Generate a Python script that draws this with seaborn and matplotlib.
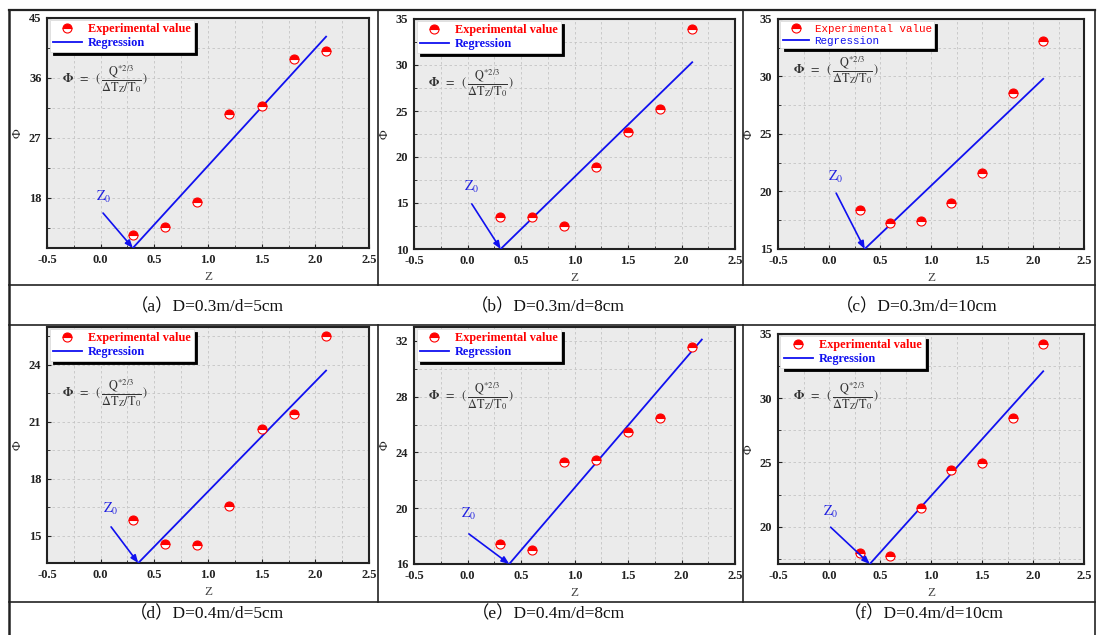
import numpy as np
import pandas as pd
import matplotlib
matplotlib.use("Agg")
import matplotlib.pyplot as plt
import seaborn as sns
from matplotlib.lines import Line2D
from matplotlib.ticker import MultipleLocator, FormatStrFormatter

# ---------------- data ----------------
z_values = [0.3, 0.6, 0.9, 1.2, 1.5, 1.8, 2.1]

phi_a = [12.5, 13.7, 17.35, 30.6, 31.8, 38.9, 40.0]
phi_b = [13.44, 13.47, 12.46, 18.9, 22.74, 25.2, 33.9]
phi_c = [18.35, 17.25, 17.4, 18.96, 21.62, 28.53, 33.1]
phi_d = [15.81, 14.54, 14.51, 16.58, 20.61, 21.42, 25.55]
phi_e = [17.44, 17.0, 23.31, 23.48, 25.47, 26.48, 31.59]
phi_f = [17.98, 17.7, 21.45, 24.38, 24.97, 28.47, 34.2]

# regression lines (start at virtual origin Z0, end of fit)
reg_z_a = [0.30, 2.10]; reg_phi_a = [10.5, 42.2]
reg_z_b = [0.31, 2.10]; reg_phi_b = [10.0, 30.3]
reg_z_c = [0.35, 2.10]; reg_phi_c = [15.0, 29.8]
reg_z_d = [0.35, 2.10]; reg_phi_d = [13.55, 23.7]
reg_z_e = [0.39, 2.19]; reg_phi_e = [16.0, 32.1]
reg_z_f = [0.40, 2.10]; reg_phi_f = [17.1, 32.1]

captions = ["（a）D=0.3m/d=5cm", "（b）D=0.3m/d=8cm", "（c）D=0.3m/d=10cm",
            "（d）D=0.4m/d=5cm", "（e）D=0.4m/d=8cm", "（f）D=0.4m/d=10cm"]
legend_labels = ["Experimental value", "Regression"]
y_limits = [(10.5, 45), (10, 35), (15, 35), (13.55, 26.0), (16, 33), (17.1, 35)]
y_major = [9, 5, 5, 3, 4, 5]
x_limits = (-0.5, 2.5)

series = [phi_a, phi_b, phi_c, phi_d, phi_e, phi_f]
reg_z = [reg_z_a, reg_z_b, reg_z_c, reg_z_d, reg_z_e, reg_z_f]
reg_phi = [reg_phi_a, reg_phi_b, reg_phi_c, reg_phi_d, reg_phi_e, reg_phi_f]

# ---------------- layout (pixels) ----------------
W, H = 1097, 635
axes_px = [  # left, right, top, bottom
    (47, 369, 18, 248),
    (414, 735, 19, 249),
    (778, 1084, 19, 249),
    (47, 369, 327, 563),
    (414, 735, 327, 564),
    (778, 1084, 334, 564),
]
caption_px = [(207, 307), (548, 307), (917, 307), (207, 614), (548, 614), (924, 614)]
formula_pos = [(0.047, 0.735), (0.044, 0.72), (0.048, 0.78), (0.047, 0.72), (0.044, 0.71), (0.048, 0.73)]
arrow_tail = [(0.174, 0.152), (0.18, 0.196), (0.19, 0.243), (0.199, 0.153), (0.171, 0.127), (0.172, 0.16)]
z0_text = [(0.177, 0.185), (0.18, 0.235), (0.19, 0.278), (0.199, 0.195), (0.171, 0.177), (0.172, 0.19)]

plt.rcParams["font.family"] = ["Liberation Serif", "Noto Sans CJK SC"]
plt.rcParams["mathtext.fontset"] = "stix"

fig = plt.figure(figsize=(W / 100, H / 100), dpi=100)
fig.patch.set_facecolor("white")

SERIF = "Liberation Serif"

for i in range(6):
    l, r, t, b = axes_px[i]
    ax = fig.add_axes([l / W, 1 - b / H, (r - l) / W, (b - t) / H])
    ax.set_facecolor("#EBEBEB")
    ax.set_axisbelow(True)

    df = pd.DataFrame({"Z": z_values, "Phi": series[i]})
    dreg = pd.DataFrame({"Z": reg_z[i], "Phi": reg_phi[i]})

    sns.lineplot(data=dreg, x="Z", y="Phi", ax=ax, color="#1010F0", lw=1.3,
                 errorbar=None, zorder=3)
    sns.lineplot(data=df, x="Z", y="Phi", ax=ax, marker="o", linestyle="",
                 color="red", markersize=6.5, fillstyle="top",
                 markerfacecolor="red", markerfacecoloralt="white",
                 markeredgecolor="red", markeredgewidth=0.8,
                 errorbar=None, zorder=4)

    ax.set_xlim(*x_limits)
    ax.set_ylim(*y_limits[i])
    ax.xaxis.set_major_locator(MultipleLocator(0.5))
    ax.xaxis.set_minor_locator(MultipleLocator(0.25))
    ax.yaxis.set_major_locator(MultipleLocator(y_major[i]))
    ax.yaxis.set_minor_locator(MultipleLocator(y_major[i] / 2))
    ax.xaxis.set_major_formatter(FormatStrFormatter("%.1f"))
    ax.grid(which="both", linestyle=(0, (3, 3)), color="#C4C4C4", linewidth=0.6)
    ax.tick_params(which="both", direction="in", colors="#222222")
    ax.tick_params(which="major", length=3, width=0.8, pad=4)
    ax.tick_params(which="minor", length=2, width=0.6)
    for lab in ax.get_xticklabels() + ax.get_yticklabels():
        lab.set_fontweight("bold")
        lab.set_fontsize(9)
        lab.set_family(SERIF)
    for sp in ax.spines.values():
        sp.set_color("#222222")
        sp.set_linewidth(1.5)

    ax.set_xlabel("Z", fontsize=9.5, color="#444444", family=SERIF, labelpad=4)
    ax.set_ylabel("Φ", fontsize=9.5, color="#222222", family=SERIF, labelpad=4)

    # legend
    handles = [Line2D([], [], marker="o", ls="", fillstyle="top", markerfacecolor="red",
                      markerfacecoloralt="white", markeredgecolor="red",
                      markeredgewidth=0.8, markersize=6.5),
               Line2D([], [], color="#1010F0", lw=1.3)]
    if i == 2:
        prop = {"family": "Liberation Mono", "size": 7.8}
    else:
        prop = {"family": SERIF, "weight": "bold", "size": 8.8}
    leg = ax.legend(handles, legend_labels, loc="upper left",
                    bbox_to_anchor=(0.008, 0.99), borderaxespad=0,
                    frameon=True, fancybox=False, prop=prop,
                    labelcolor=["red", "#1010F0"],
                    handlelength=2.4, handletextpad=0.5, labelspacing=0.15,
                    borderpad=0.25,
                    shadow={"ox": 2.2, "oy": -2.2, "facecolor": "black",
                            "edgecolor": "black", "alpha": 1})
    leg.get_frame().set_facecolor("white")
    leg.get_frame().set_edgecolor("#DDDDDD")
    leg.get_frame().set_linewidth(0.6)
    leg.get_frame().set_alpha(1)
    leg.set_zorder(10)

    # formula
    ax.text(formula_pos[i][0], formula_pos[i][1],
            r"$\mathbf{\Phi}\ \ =\ \ (\,\dfrac{\mathrm{Q}^{*2/3}}{\Delta\mathrm{T_Z/T_0}}\,)$",
            transform=ax.transAxes, ha="left", va="center", fontsize=8.8,
            color="#333333", zorder=5)

    # Z0 annotation pointing at regression start
    ax.annotate("", xy=(reg_z[i][0], reg_phi[i][0]), xycoords="data",
                xytext=arrow_tail[i], textcoords="axes fraction",
                arrowprops=dict(arrowstyle="-|>,head_length=0.45,head_width=0.18",
                                color="#1010F0", lw=1.2, shrinkA=0, shrinkB=0),
                zorder=5)
    ax.text(z0_text[i][0], z0_text[i][1], r"$\mathrm{Z_0}$", transform=ax.transAxes,
            ha="center", va="bottom", fontsize=10, color="#2020E0", zorder=5)

# captions
for (cx, cy), cap in zip(caption_px, captions):
    fig.text(cx / W, 1 - cy / H, cap, ha="center", va="center", fontsize=12.5,
             family=[SERIF, "Noto Sans CJK SC"], color="#111111")

# table frame lines
def hline(y, x0=9, x1=1095, lw=1.2):
    fig.add_artist(Line2D([x0 / W, x1 / W], [1 - y / H, 1 - y / H],
                          transform=fig.transFigure, color="#222222", lw=lw))

def vline(x, y0, y1, lw=1.2):
    fig.add_artist(Line2D([x / W, x / W], [1 - y0 / H, 1 - y1 / H],
                          transform=fig.transFigure, color="#222222", lw=lw))

hline(10, lw=1.6)
hline(285)
hline(325)
hline(602)
vline(9, 10, 635, lw=1.8)
vline(1095, 10, 635, lw=1.2)
for xv in (378, 743):
    vline(xv, 10, 285)
    vline(xv, 325, 602)

fig.savefig("out.png", dpi=100)
